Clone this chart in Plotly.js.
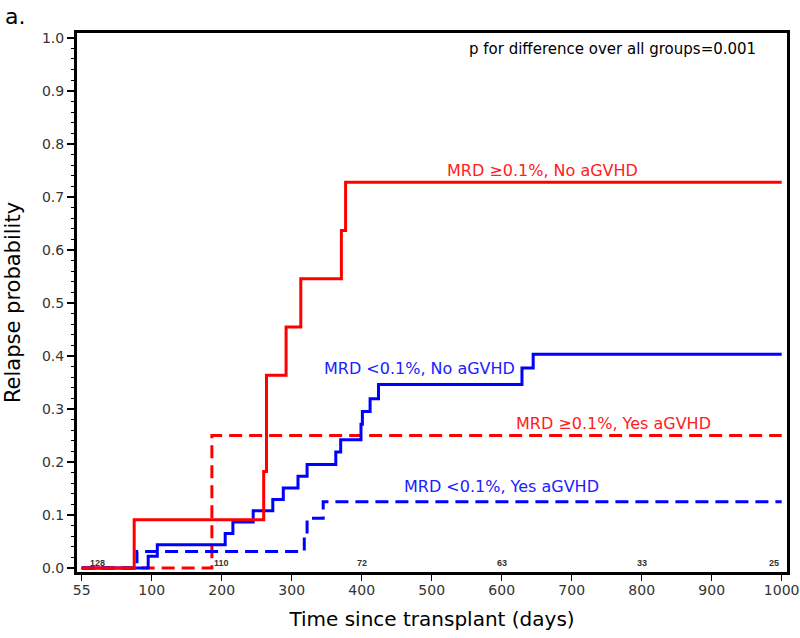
<!DOCTYPE html>
<html><head><meta charset="utf-8">
<script src="https://cdn.plot.ly/plotly-3.0.1.min.js"></script>
<style>html,body{margin:0;padding:0;background:#fff}</style>
</head><body><div id="chart" style="width:800px;height:638px"></div>
<script>
// Cumulative incidence of relapse, step curves (time in days, probability)
const redNoT   = [0, 75, 260, 264, 292, 313, 371, 377, 1000];
const redNoP   = [0, 0.0909, 0.1818, 0.3636, 0.4545, 0.5455, 0.6364, 0.7273, 0.7273];
const redYesT  = [0, 186, 1000];
const redYesP  = [0, 0.25, 0.25];
const blueNoT  = [0, 95, 108, 205, 216, 245, 273, 288, 309, 322, 363, 370, 399, 401, 412, 424, 629, 645, 1000];
const blueNoP  = [0, 0.022, 0.044, 0.065, 0.087, 0.108, 0.129, 0.151, 0.173, 0.195, 0.219, 0.242, 0.271, 0.295, 0.319, 0.346, 0.377, 0.403, 0.403];
const blueYesT = [0, 79, 318, 322, 345, 1000];
const blueYesP = [0, 0.0313, 0.0625, 0.0938, 0.125, 0.125];

const xTickVals = [0, 100, 200, 300, 400, 500, 600, 700, 800, 900, 1000];
const xTickText = ['55', '100', '200', '300', '400', '500', '600', '700', '800', '900', '1000'];
const riskT = [0, 200, 400, 600, 800, 1000];
const riskN = ['128', '110', '72', '63', '33', '25'];

const labels = ['MRD \u22650.1%, No aGVHD', 'MRD <0.1%, No aGVHD', 'MRD \u22650.1%, Yes aGVHD', 'MRD <0.1%, Yes aGVHD'];
const pText = 'p for difference over all groups=0.001';

const FONT = 'DejaVu Sans, Verdana, sans-serif';

function stepTrace(x, y, color, dash, name) {
  return {x: x, y: y, type: 'scatter', mode: 'lines', name: name,
    line: {shape: 'hv', color: color, width: 3, dash: dash}, hoverinfo: 'skip'};
}

const data = [
  stepTrace(redYesT, redYesP, '#ff0000', '13px,7px', labels[2]),
  stepTrace(blueYesT, blueYesP, '#0000ff', '13px,7px', labels[3]),
  stepTrace(blueNoT, blueNoP, '#0000ff', 'solid', labels[1]),
  stepTrace(redNoT, redNoP, '#ff0000', 'solid', labels[0])
];

const annotations = [
  {text: 'a.', xref: 'paper', yref: 'paper', x: -0.104, y: 1.058, xanchor: 'left', yanchor: 'top',
   showarrow: false, font: {family: FONT, size: 22, color: '#000'}},
  {text: pText, xref: 'x', yref: 'y', x: 966, y: 0.978, xanchor: 'right', yanchor: 'middle',
   showarrow: false, font: {family: FONT, size: 15, color: '#000'}},
  {text: labels[0], xref: 'x', yref: 'y', x: 519, y: 0.75, xanchor: 'left', yanchor: 'middle',
   showarrow: false, font: {family: FONT, size: 16, color: '#ff2020'}},
  {text: labels[1], xref: 'x', yref: 'y', x: 343, y: 0.376, xanchor: 'left', yanchor: 'middle',
   showarrow: false, font: {family: FONT, size: 16, color: '#2020ff'}},
  {text: labels[2], xref: 'x', yref: 'y', x: 618, y: 0.272, xanchor: 'left', yanchor: 'middle',
   showarrow: false, font: {family: FONT, size: 16, color: '#ff2020'}},
  {text: labels[3], xref: 'x', yref: 'y', x: 457, y: 0.154, xanchor: 'left', yanchor: 'middle',
   showarrow: false, font: {family: FONT, size: 16, color: '#2020ff'}}
];
riskT.forEach(function (t, i) {
  const first = i === 0, last = i === riskT.length - 1;
  annotations.push({text: '<b>' + riskN[i] + '</b>', xref: 'x', yref: 'y', x: t, y: 0.01,
    xanchor: first ? 'left' : (last ? 'right' : 'center'), yanchor: 'middle',
    xshift: first ? 6 : (last ? -1 : 0),
    showarrow: false, font: {family: 'Liberation Sans, Arial, sans-serif', size: 9, color: '#333'}});
});

const layout = {
  width: 800, height: 638,
  margin: {l: 77, r: 13, t: 33, b: 66, pad: 0},
  paper_bgcolor: '#fff', plot_bgcolor: '#fff',
  showlegend: false,
  xaxis: {
    range: [-6.7, 1007.6], tickmode: 'array', tickvals: xTickVals, ticktext: xTickText,
    showline: true, linewidth: 3, linecolor: '#000', mirror: true,
    ticks: 'outside', ticklen: 6, tickwidth: 1.5, tickcolor: '#000',
    ticklabelstandoff: -3,
    showgrid: false, zeroline: false,
    tickfont: {family: FONT, size: 14, color: '#333'},
    title: {text: 'Time since transplant (days)', font: {family: FONT, size: 20, color: '#000'}, standoff: 16}
  },
  yaxis: {
    range: [-0.0075, 1.009], tick0: 0, dtick: 0.1, tickformat: '.1f',
    showline: true, linewidth: 3, linecolor: '#000', mirror: true,
    ticks: 'outside', ticklen: 7, tickwidth: 1.5, tickcolor: '#000',
    minor: {dtick: 0.02, tick0: 0, ticks: 'outside', ticklen: 3, tickwidth: 1, tickcolor: '#000', showgrid: false},
    showgrid: false, zeroline: false,
    tickfont: {family: FONT, size: 14, color: '#333'},
    title: {text: 'Relapse probability', font: {family: FONT, size: 21, color: '#000'}, standoff: 16}
  },
  annotations: annotations
};

Plotly.newPlot('chart', data, layout, {displayModeBar: false, staticPlot: true});
</script>
</body></html>
